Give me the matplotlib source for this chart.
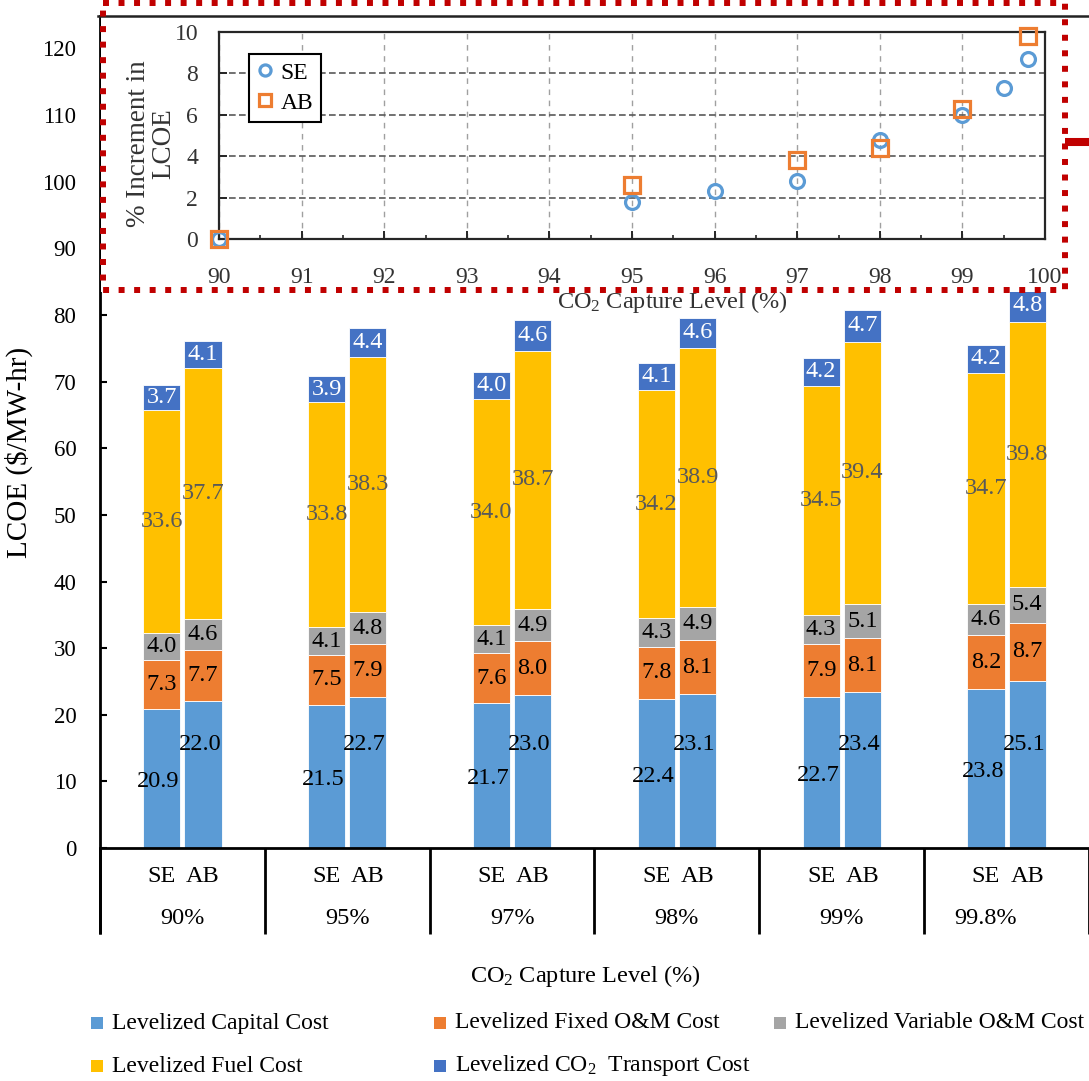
import matplotlib
matplotlib.use("Agg")
import matplotlib.pyplot as plt
import matplotlib.transforms as mtransforms
from matplotlib.patches import Rectangle
from matplotlib.lines import Line2D
from matplotlib.ticker import MultipleLocator
import numpy as np

plt.rcParams['font.family'] = ['Liberation Serif', 'DejaVu Serif']
plt.rcParams['mathtext.fontset'] = 'custom'
plt.rcParams['mathtext.rm'] = 'Liberation Serif'
plt.rcParams['mathtext.it'] = 'Liberation Serif:italic'
plt.rcParams['mathtext.bf'] = 'Liberation Serif:bold'

# ---------------- data ----------------
capture_levels = ['90%', '95%', '97%', '98%', '99%', '99.8%']
solvents = ['SE', 'AB']
component_names = ['Levelized Capital Cost', 'Levelized Fixed O&M Cost',
                   'Levelized Variable O&M Cost', 'Levelized Fuel Cost',
                   r'Levelized CO$_\mathrm{2}$  Transport Cost']

se_capital = [20.9, 21.5, 21.7, 22.4, 22.7, 23.8]
se_fixed_om = [7.3, 7.5, 7.6, 7.8, 7.9, 8.2]
se_variable_om = [4.0, 4.1, 4.1, 4.3, 4.3, 4.6]
se_fuel = [33.6, 33.8, 34.0, 34.2, 34.5, 34.7]
se_transport = [3.7, 3.9, 4.0, 4.1, 4.2, 4.2]

ab_capital = [22.0, 22.7, 23.0, 23.1, 23.4, 25.1]
ab_fixed_om = [7.7, 7.9, 8.0, 8.1, 8.1, 8.7]
ab_variable_om = [4.6, 4.8, 4.9, 4.9, 5.1, 5.4]
ab_fuel = [37.7, 38.3, 38.7, 38.9, 39.4, 39.8]
ab_transport = [4.1, 4.4, 4.6, 4.6, 4.7, 4.8]

# % increment in LCOE relative to 90% capture
inc_se_capture = [90, 95, 96, 97, 98, 99, 99.5, 99.8]
inc_se_value = [0.0, 1.8, 2.3, 2.8, 4.8, 6.0, 7.3, 8.7]
inc_ab_capture = [90, 95, 97, 98, 99, 99.8]
inc_ab_value = [0.0, 2.6, 3.8, 4.4, 6.3, 9.8]

# ---------------- style ----------------
comp_colors = ['#5B9BD5', '#ED7D31', '#A5A5A5', '#FFC000', '#4472C4']
label_colors = ['black', 'black', 'black', '#595959', 'white']
se_color = '#5B9BD5'
ab_color = '#ED7D31'
red = '#C00000'

W, H = 1089, 1081
fig = plt.figure(figsize=(W / 100, H / 100), dpi=100)


def fx(px):
    return px / W


def fy(py):
    return 1 - py / H


# ---------------- main stacked bars ----------------
ax_top, ax_bottom = 16, 848
ax = fig.add_axes([fx(100), fy(ax_bottom), fx(989), (ax_bottom - ax_top) / H])
ax.set_zorder(0)
x = np.arange(len(capture_levels))
offsets = {'SE': -0.125, 'AB': 0.125}
bar_w = 0.225
stacks = {
    'SE': [se_capital, se_fixed_om, se_variable_om, se_fuel, se_transport],
    'AB': [ab_capital, ab_fixed_om, ab_variable_om, ab_fuel, ab_transport],
}

for s in solvents:
    bottom = np.zeros(len(capture_levels))
    xpos = x + offsets[s]
    for k, vals in enumerate(stacks[s]):
        vals = np.asarray(vals)
        ax.bar(xpos, vals, bar_w, bottom=bottom, color=comp_colors[k],
               edgecolor='white', linewidth=0.6, zorder=2)
        for i in range(len(vals)):
            yl = bottom[i] + vals[i] / 2
            dx = 0.0
            if k == 0:
                # capital labels sit a little off-centre in the blue segment
                yl = vals[i] / 2 - 0.45 if s == 'SE' else 15.6
                dx = -0.02
            ax.text(xpos[i] + dx, yl, f'{vals[i]:.1f}', ha='center',
                    va='center', fontsize=17.5, color=label_colors[k],
                    zorder=3)
        bottom = bottom + vals

px_per_unit = (848 - 315) / 80
ax.set_ylim(0, (ax_bottom - ax_top) / px_per_unit)
ax.set_xlim(-0.5, -0.5 + 989 / 166)
ax.set_yticks(np.arange(0, 121, 10))
ax.tick_params(axis='y', direction='in', length=5, width=1.5,
               labelsize=16.5, pad=17)
ax.set_xticks(np.arange(-0.5, len(capture_levels), 1.0))
ax.set_xticklabels([])
ax.tick_params(axis='x', direction='out', length=62, width=2)
for side in ('top', 'right'):
    ax.spines[side].set_visible(False)
for side in ('left', 'bottom'):
    ax.spines[side].set_linewidth(2)

# extend left spine down to the category band
ax.plot([-0.5, -0.5], [0, -86 / px_per_unit], color='black', lw=2,
        clip_on=False, zorder=3, solid_capstyle='butt')

blend = mtransforms.blended_transform_factory(ax.transData, fig.transFigure)
level_label_shift = [0, 0, 0, 0, 0, -0.13]
for i, lvl in enumerate(capture_levels):
    for s in solvents:
        ax.text(x[i] + offsets[s], fy(876), s, transform=blend,
                ha='center', va='center', fontsize=17.5)
    ax.text(x[i] + level_label_shift[i], fy(919), lvl, transform=blend,
            ha='center', va='center', fontsize=17.5)

fig.text(fx(585), fy(976), r'CO$_\mathrm{2}$ Capture Level (%)',
         ha='center', va='center', fontsize=17.5)
fig.text(fx(19), fy(452), r'LCOE (\$/MW-hr)', rotation=90,
         ha='center', va='center', fontsize=21)

# legend for cost components (two rows, fixed grid)
legend_slots = [(97, 1023), (440, 1023), (780, 1023), (97, 1066), (440, 1066)]
for (cx, cy), k in zip(legend_slots, range(len(component_names))):
    sq = 12
    fig.patches.append(Rectangle((fx(cx - sq / 2), fy(cy + sq / 2)),
                                 sq / W, sq / H, transform=fig.transFigure,
                                 facecolor=comp_colors[k], edgecolor='none',
                                 zorder=3))
    fig.text(fx(cx + 15), fy(cy), component_names[k], ha='left',
             va='center', fontsize=17)

# ---------------- inset: % increment in LCOE ----------------
fig.patches.append(Rectangle((fx(101), fy(292)), fx(988), 276 / H,
                             transform=fig.transFigure, facecolor='white',
                             edgecolor='none', zorder=1))
fig.lines.append(Line2D([fx(98), fx(1089)], [fy(16), fy(16)],
                        transform=fig.transFigure, color='#222222', lw=1.8,
                        zorder=2))

axi = fig.add_axes([fx(219), fy(239), fx(826), 207 / H])
axi.set_zorder(2)
axi.set_xlim(90, 100)
axi.set_ylim(0, 10)
axi.set_xticks(np.arange(90, 101, 1))
axi.xaxis.set_minor_locator(MultipleLocator(0.5))
axi.set_yticks(np.arange(0, 11, 2))
axi.yaxis.grid(True, ls=(0, (4, 2)), color='#595959', lw=1.2)
axi.xaxis.grid(True, ls=(0, (4, 4)), color='#a0a0a0', lw=1.0)
axi.set_axisbelow(True)
for sp in axi.spines.values():
    sp.set_linewidth(1.6)
    sp.set_color('#262626')
axi.tick_params(which='major', direction='in', length=6, width=1.4,
                labelsize=17, color='#262626', labelcolor='#333333')
axi.tick_params(which='minor', direction='in', length=3, width=1.2,
                color='#262626')
axi.tick_params(axis='x', which='both', pad=20, top=False)
axi.tick_params(axis='y', pad=15, right=False)

axi.plot(inc_se_capture, inc_se_value, ls='', marker='o', ms=10,
         mfc='none', mec=se_color, mew=2.3, clip_on=False, zorder=5,
         label='SE')
axi.plot(inc_ab_capture, inc_ab_value, ls='', marker='s', ms=11,
         mfc='none', mec=ab_color, mew=2.3, clip_on=False, zorder=6,
         label='AB')
leg = axi.legend(loc='upper left', bbox_to_anchor=(0.036, 0.894),
                 fontsize=17, frameon=True, fancybox=False,
                 edgecolor='black', framealpha=1, handlelength=0.7,
                 handletextpad=0.3, borderpad=0.35, labelspacing=0.35,
                 borderaxespad=0, markerscale=0.8)
leg.get_frame().set_linewidth(1.5)

fig.text(fx(151), fy(144), '% Increment in\nLCOE', rotation=90,
         ha='center', va='center', fontsize=19.5, multialignment='center',
         linespacing=1.0, zorder=4, color='#333333')
fig.text(fx(672), fy(302), r'CO$_\mathrm{2}$ Capture Level (%)',
         ha='center', va='center', fontsize=17.5, zorder=4, color='#333333')

# red dotted highlight frame and pointer
frame_x = [fx(103), fx(1065), fx(1065), fx(103), fx(103)]
frame_y = [fy(2.5), fy(2.5), fy(290), fy(290), fy(2.5)]
fig.lines.append(Line2D(frame_x, frame_y, transform=fig.transFigure,
                        color=red, lw=4.3, ls=(0, (1.0, 1.6)),
                        dash_capstyle='butt', zorder=5))
fig.lines.append(Line2D([fx(1065), fx(1089)], [fy(142), fy(142)],
                        transform=fig.transFigure, color=red, lw=5.8,
                        solid_capstyle='butt', zorder=5))

fig.savefig('out.png', dpi=100)
